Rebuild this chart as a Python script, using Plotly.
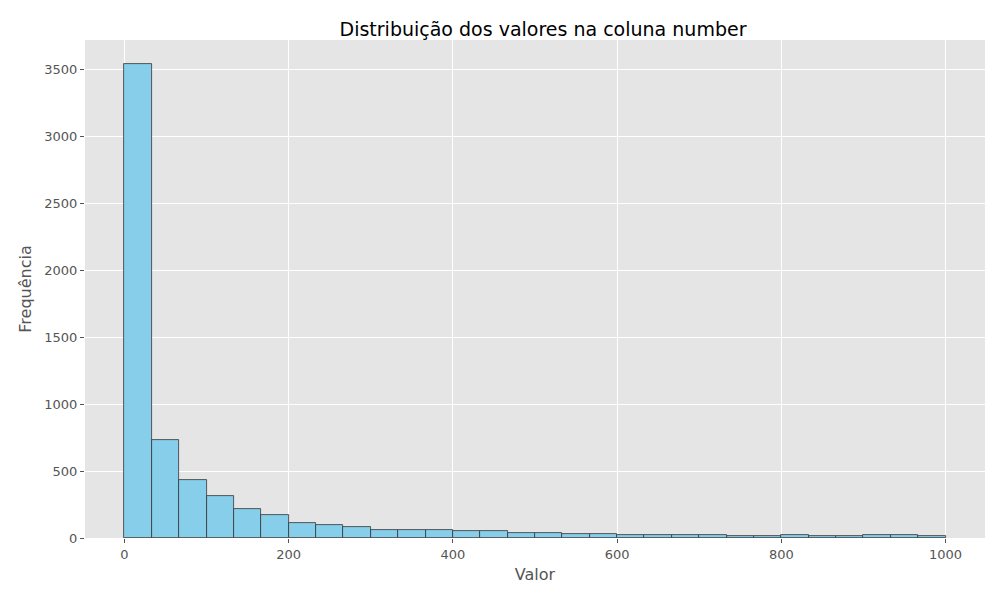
import numpy as np
import plotly.graph_objects as go

# histogram bins: 30 bins over 0..1000
bin_edges = np.linspace(0, 1000, 31)
counts = [3540, 735, 430, 310, 220, 175, 114, 94, 84, 62,
          62, 62, 55, 55, 40, 40, 32, 32, 25, 25,
          25, 25, 17, 17, 25, 17, 17, 25, 25, 17]

centers = (bin_edges[:-1] + bin_edges[1:]) / 2
width = bin_edges[1] - bin_edges[0]

fig = go.Figure(go.Bar(
    x=centers, y=counts, width=width,
    marker=dict(color="skyblue", line=dict(color="#333333", width=0.8)),
))

grid = dict(showgrid=True, gridcolor="white", gridwidth=1, zeroline=False,
            ticks="outside", tickcolor="#555555", ticklen=4,
            tickfont=dict(size=13, color="#555555"))

fig.update_layout(
    width=1000, height=600,
    paper_bgcolor="white", plot_bgcolor="#e5e5e5",
    font=dict(family="DejaVu Sans"),
    title=dict(text="Distribuição dos valores na coluna number", x=0.535, y=0.975,
               font=dict(size=19, color="black")),
    margin=dict(l=77, r=23, t=32, b=70),
    bargap=0, showlegend=False,
    xaxis=dict(range=[-48, 1048], tickvals=[0, 200, 400, 600, 800, 1000],
               title=dict(text="Valor", standoff=8, font=dict(size=16, color="#555555")), **grid),
    yaxis=dict(range=[0, 3717], tickvals=list(range(0, 3501, 500)),
               title=dict(text="Frequência", standoff=8, font=dict(size=16, color="#555555")), **grid),
)

fig.write_html("out.html")
